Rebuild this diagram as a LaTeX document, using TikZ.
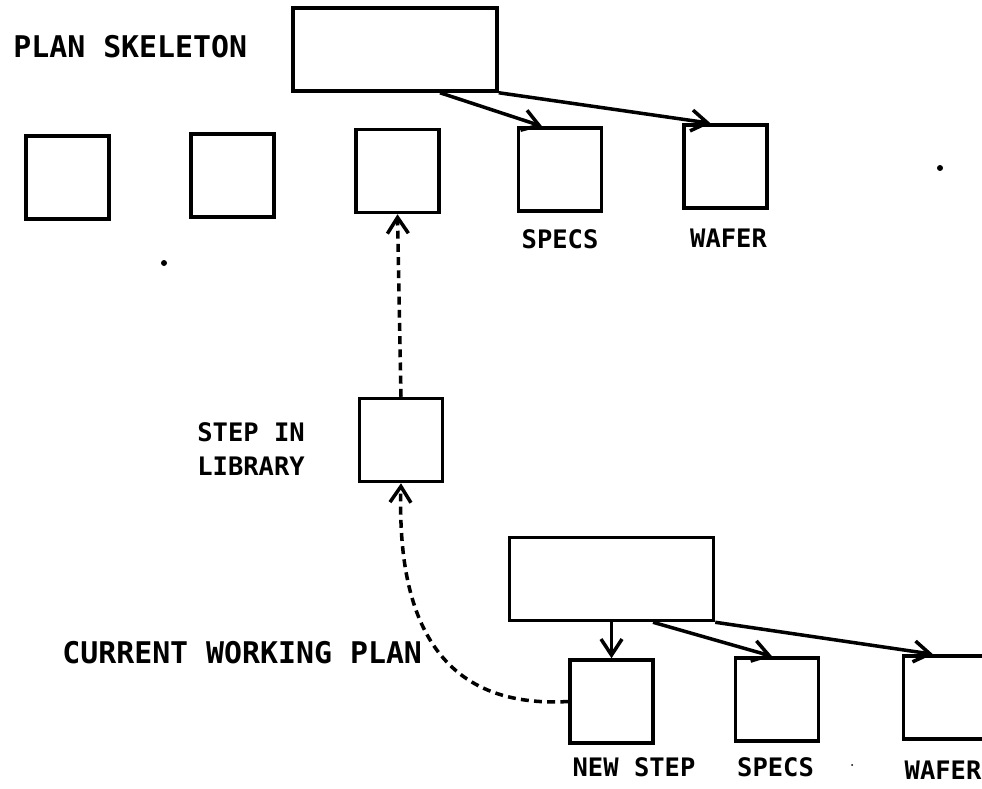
\documentclass[tikz,border=0pt]{standalone}
\usepackage{fontspec}
\setmonofont{DejaVu Sans Mono}
\usetikzlibrary{arrows.meta}

\begin{document}
\begin{tikzpicture}[x=0.02cm, y=-0.02cm,
  box/.style={draw, line width=2pt, inner sep=0pt, minimum width=1.66cm, minimum height=1.66cm},
  wide/.style={box, minimum width=4.08cm},
  link/.style={line width=2pt, -{Straight Barb[length=3.2mm, width=4.2mm]}},
  ref/.style={link, dash pattern=on 4.5pt off 3pt},
  big/.style={font=\ttfamily\bfseries\fontsize{17}{20}\selectfont, inner sep=0pt, anchor=west},
  lbl/.style={font=\ttfamily\bfseries\fontsize{14.5}{19.3}\selectfont, inner sep=0pt}]

\useasboundingbox (0,0) rectangle (982,788);
\clip (0,0) rectangle (982,788);

% ===== Plan skeleton =====

\node[big] (skeltext) at (13,47) {PLAN SKELETON};
\node[wide] (skel) at (395,49.5) {};

\node[box] (s1) at (67.5,177.5) {};
\node[box] (s2) at (232.5,175.5) {};
\node[box] (s3) at (397.5,171) {};
\node[box] (s4) at (560,169.5) {};
\node[box] (s5) at (725.5,166.5) {};

\node[lbl] (s4text) at (560,239) {SPECS};
\node[lbl] (s5text) at (728.5,238) {WAFER};

\draw[link] ([xshift=0.9cm]skel.south) -- ([xshift=-0.36cm]s4.north);
\draw[link] (skel.south east) -- ([xshift=-0.3cm]s5.north);

% ===== Step in library =====

\node[box] (lib) at (401,440) {};
\node[lbl, align=left, anchor=west] (libtext) at (197,449) {STEP IN\\LIBRARY};

\draw[ref] (lib.north) -- (s3.south);

% ===== Current working plan =====

\node[big] (curtext) at (62,653) {CURRENT WORKING PLAN};
\node[wide] (cur) at (611.5,579) {};

\node[box] (n1) at (611.5,701.5) {};
\node[box] (n2) at (777,699.5) {};
\node[box] (n3) at (945,697.5) {};

\node[lbl] (n1text) at (634,767) {NEW STEP};
\node[lbl] (n2text) at (775.5,767) {SPECS};
\node[lbl] (n3text) at (943,770) {WAFER};

\draw[link] (cur.south) -- (n1.north);
\draw[link] ([xshift=0.83cm]cur.south) -- ([xshift=-0.1cm]n2.north);
\draw[link] (cur.south east) -- ([xshift=-0.24cm]n3.north);

\draw[ref] (n1.west) .. controls (420,710) and (398,590) .. (lib.south);

% ===== Specks =====

\fill (940,168) circle[radius=3];
\fill (164,263) circle[radius=3];
\fill (852,765) circle[radius=1];

\end{tikzpicture}
\end{document}
